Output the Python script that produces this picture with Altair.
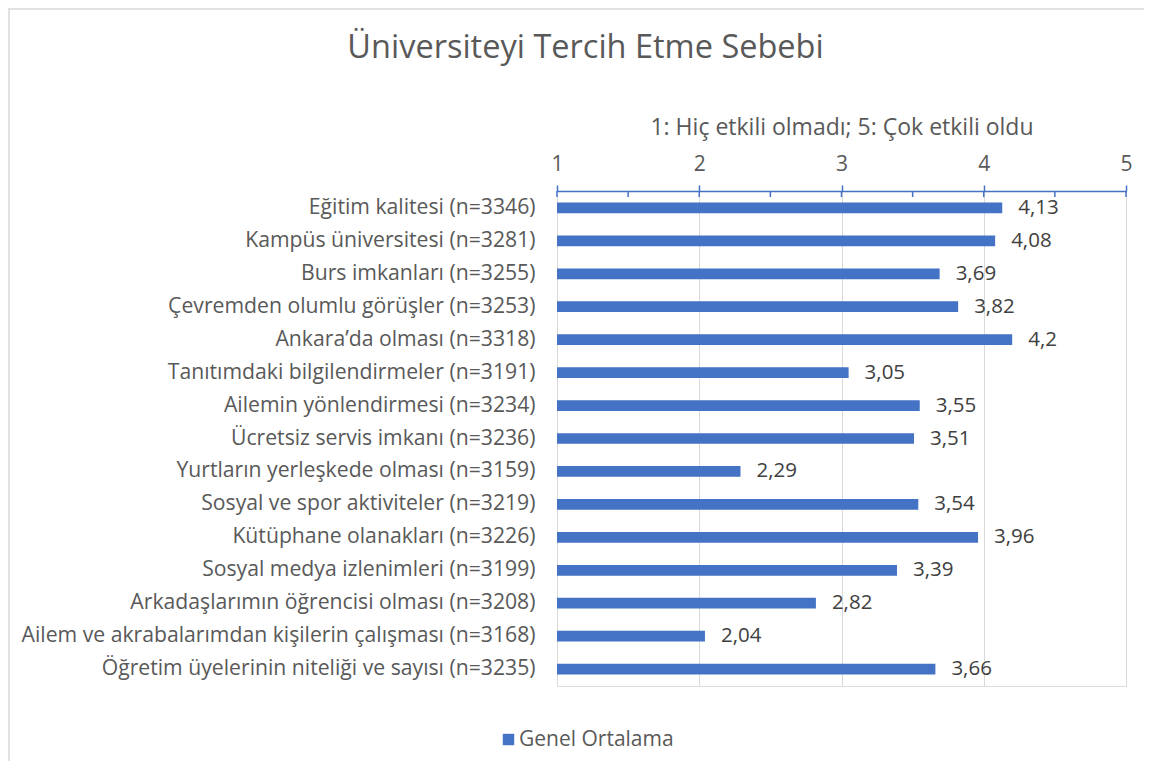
import altair as alt
import pandas as pd

categories = [
    "Eğitim kalitesi (n=3346)",
    "Kampüs üniversitesi (n=3281)",
    "Burs imkanları (n=3255)",
    "Çevremden olumlu görüşler (n=3253)",
    "Ankara’da olması (n=3318)",
    "Tanıtımdaki bilgilendirmeler (n=3191)",
    "Ailemin yönlendirmesi (n=3234)",
    "Ücretsiz servis imkanı (n=3236)",
    "Yurtların yerleşkede olması (n=3159)",
    "Sosyal ve spor aktiviteler (n=3219)",
    "Kütüphane olanakları (n=3226)",
    "Sosyal medya izlenimleri (n=3199)",
    "Arkadaşlarımın öğrencisi olması (n=3208)",
    "Ailem ve akrabalarımdan kişilerin çalışması (n=3168)",
    "Öğretim üyelerinin niteliği ve sayısı (n=3235)",
]
values = [4.13, 4.08, 3.69, 3.82, 4.2, 3.05, 3.55, 3.51, 2.29, 3.54, 3.96, 3.39, 2.82, 2.04, 3.66]
series_name = "Genel Ortalama"
tick_values = [1, 1.5, 2, 2.5, 3, 3.5, 4, 4.5, 5]
major_ticks = [1, 2, 3, 4, 5]
axis_min = 1

FONT = "Open Sans"
BLUE = "#4472C4"
GREY = "#595959"

df = pd.DataFrame({
    "cat": categories,
    "val": values,
    "label": [str(v).replace(".", ",") for v in values],
    "series": [series_name] * len(values),
})
ticks_df = pd.DataFrame({"t": tick_values})

xscale = alt.Scale(domain=[1, 5], nice=False, zero=False)
yscale = alt.Scale(paddingInner=0.675, paddingOuter=0.35)

base = alt.Chart(df)

bars = base.mark_bar(color=BLUE).encode(
    x=alt.X("val:Q", scale=xscale,
            axis=alt.Axis(orient="top", values=major_ticks, format="d", labelFlush=False,
                          title="1: Hiç etkili olmadı; 5: Çok etkili oldu",
                          grid=True, gridColor="#d9d9d9", gridWidth=1,
                          domainColor=BLUE, domainWidth=1.5,
                          tickColor=BLUE, tickSize=6, tickWidth=1.5,
                          labelFontSize=21, labelColor=GREY, labelFont=FONT, labelPadding=11,
                          titleFontSize=23, titleColor=GREY, titleFont=FONT, titleFontWeight="normal",
                          titlePadding=14)),
    x2=alt.datum(axis_min),
    y=alt.Y("cat:N", sort=categories, scale=yscale,
            axis=alt.Axis(title=None, domain=False, ticks=False, tickSize=0, labelPadding=22,
                          labelFontSize=21.2, labelColor=GREY, labelFont=FONT, labelLimit=600)),
    color=alt.Color("series:N", scale=alt.Scale(range=[BLUE]),
                    legend=alt.Legend(title=None, orient="none", legendX=-59, legendY=538,
                                      symbolType="square", symbolSize=130, symbolStrokeWidth=0,
                                      labelFontSize=21, labelColor=GREY, labelFont=FONT, labelOffset=0)),
)

texts = base.mark_text(align="left", baseline="middle", dx=16, fontSize=20.5, font=FONT, color="#404040").encode(
    x=alt.X("val:Q", scale=xscale),
    y=alt.Y("cat:N", sort=categories, scale=yscale),
    text="label:N",
)

minor = alt.Chart(ticks_df).mark_rule(color=BLUE, strokeWidth=1.5).encode(
    x=alt.X("t:Q", scale=xscale),
    y=alt.value(0),
    y2=alt.value(6),
)

frame_data = alt.Data(values=[{"a": 1}])
left_border = alt.Chart(frame_data).mark_rule(color="#d9d9d9", strokeWidth=1.5).encode(
    x=alt.value(-548), y=alt.value(-183), y2=alt.value(580),
)
top_border = alt.Chart(frame_data).mark_rule(color="#d9d9d9", strokeWidth=1.5).encode(
    x=alt.value(-548), x2=alt.value(600), y=alt.value(-182),
)

chart = alt.layer(left_border, top_border, bars, texts, minor).properties(
    width=569,
    height=495,
    padding={"left": 549, "top": 183, "right": 18, "bottom": 75},
    autosize=alt.AutoSizeParams(type="none"),
    title=alt.Title("Üniversiteyi Tercih Etme Sebebi", fontSize=32.5, font=FONT, color=GREY,
                    fontWeight="normal", anchor="middle", dx=-256, dy=57, offset=0),
).configure_view(stroke=None).configure(background="white")

chart.save("out.html", embed_options={"renderer": "svg", "actions": False})
